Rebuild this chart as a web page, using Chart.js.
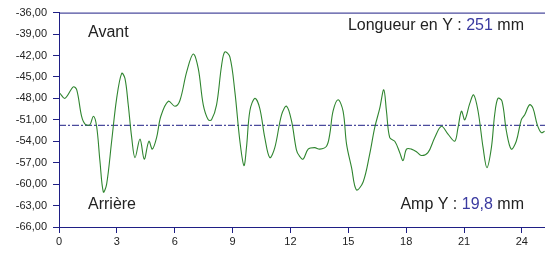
<!DOCTYPE html>
<html>
<head>
<meta charset="utf-8">
<script src="https://cdn.jsdelivr.net/npm/chart.js@4.4.1/dist/chart.umd.min.js"></script>
<style>
  html, body { margin: 0; padding: 0; background: #fff; }
  #wrap { width: 545px; height: 253px; }
</style>
</head>
<body>
<div id="wrap"><canvas id="profil"></canvas></div>
<script>
// --- Data ---
const positions = [0.05, 0.31, 0.74, 0.92, 1.17, 1.35, 1.6, 1.78, 1.95, 2.12, 2.3, 2.47, 2.73, 2.99, 3.25, 3.42, 3.59, 3.77, 3.94,
  4.2, 4.42, 4.66, 4.84, 5.06, 5.28, 5.67, 6.01, 6.27, 6.62, 6.96, 7.22, 7.48, 7.74, 7.91, 8.17, 8.43, 8.6, 8.86, 9.12, 9.38,
  9.59, 9.72, 9.9, 10.16, 10.41, 10.67, 10.93, 11.19, 11.54, 11.8, 12.06, 12.31, 12.45, 12.66, 12.92, 13.26, 13.52, 13.87,
  14.04, 14.21, 14.47, 14.73, 14.91, 15.17, 15.42, 15.77, 16.11, 16.37, 16.63, 16.84, 16.98, 17.15, 17.41, 17.67, 17.84,
  18.02, 18.27, 18.55, 18.79, 19.13, 19.48, 19.83, 20.17, 20.52, 20.69, 20.87, 21.04, 21.3, 21.5, 21.73, 21.99, 22.19,
  22.42, 22.59, 22.76, 22.97, 23.2, 23.45, 23.71, 23.97, 24.15, 24.4, 24.58, 24.8, 25.01, 25.18];
const depth = [-47.3, -48.0, -46.4, -46.8, -50.5, -51.6, -51.7, -50.5, -51.9, -56.7, -61.1, -60.0, -54.0, -48.0, -44.5, -45.2, -48.9, -53.5, -56.3,
  -53.7, -56.5, -54.0, -55.1, -53.5, -50.5, -48.4, -49.1, -48.3, -44.3, -41.8, -43.8, -48.9, -51.0, -51.0, -48.9, -43.4, -41.5, -42.2, -47.1, -54.0,
  -57.4, -54.9, -49.7, -48.0, -49.4, -53.5, -56.3, -54.9, -50.3, -49.1, -51.2, -55.2, -56.0, -56.5, -55.1, -54.9, -55.1, -54.7,
  -53.0, -49.8, -48.2, -49.8, -54.4, -57.7, -60.8, -59.7, -55.8, -52.1, -49.4, -46.8, -49.8, -53.5, -54.0, -55.6, -56.7,
  -55.1, -55.1, -55.5, -56.0, -55.6, -53.5, -51.9, -53.0, -54.0, -52.1, -49.8, -51.0, -48.7, -47.5, -49.8, -54.9, -57.7,
  -54.9, -50.3, -48.0, -48.4, -52.6, -55.1, -54.0, -51.0, -50.3, -48.9, -49.4, -51.7, -52.8, -52.6];
const meanLevel = -51.77;
const yTicks = [-66, -63, -60, -57, -54, -51, -48, -45, -42, -39, -36];
const xTicks = [0, 3, 6, 9, 12, 15, 18, 21, 24];
const xMax = 25.2;

const NAVY = '#1f1f85';
const FONT = '"Liberation Sans", Arial, sans-serif';

// --- Texts inside the plot ---
const labelsPlugin = {
  id: 'labels',
  afterDraw(chart) {
    const { ctx, chartArea: a } = chart;
    ctx.save();
    // top border
    ctx.strokeStyle = NAVY;
    ctx.lineWidth = 1;
    ctx.beginPath();
    ctx.moveTo(a.left, a.top + 0.5);
    ctx.lineTo(a.right, a.top + 0.5);
    ctx.stroke();

    ctx.font = '16px ' + FONT;
    ctx.textBaseline = 'middle';
    ctx.fillStyle = '#222';
    ctx.fillText('Avant', a.left + 29, a.top + 20);
    ctx.fillText('Arrière', a.left + 29, a.top + 192);

    // right-aligned lines with a blue number
    function rightLine(parts, y) {
      let w = parts.reduce((s, p) => s + ctx.measureText(p[0]).width, 0);
      let x = a.right - 21 - w;
      parts.forEach(p => {
        ctx.fillStyle = p[1];
        ctx.fillText(p[0], x, y);
        x += ctx.measureText(p[0]).width;
      });
    }
    rightLine([['Longueur en Y : ', '#222'], ['251', '#3a3aa0'], [' mm', '#222']], a.top + 13);
    rightLine([['Amp Y : ', '#222'], ['19,8', '#3a3aa0'], [' mm', '#222']], a.top + 192);
    ctx.restore();
  }
};

new Chart(document.getElementById('profil'), {
  type: 'line',
  data: {
    datasets: [
      {
        data: positions.map((x, i) => ({ x, y: depth[i] })),
        borderColor: '#2f852f',
        borderWidth: 1.1,
        pointRadius: 0,
        tension: 0.35,
        fill: false
      },
      {
        data: [{ x: 0, y: meanLevel }, { x: xMax, y: meanLevel }],
        borderColor: NAVY,
        borderWidth: 1,
        borderDash: [7, 2, 2, 2],
        pointRadius: 0,
        fill: false
      }
    ]
  },
  options: {
    responsive: true,
    maintainAspectRatio: false,
    animation: false,
    events: [],
    layout: { padding: { top: 10, right: 0, left: 0, bottom: 0 } },
    plugins: { legend: { display: false }, tooltip: { enabled: false } },
    scales: {
      x: {
        type: 'linear',
        min: 0,
        max: xMax,
        afterBuildTicks: s => { s.ticks = xTicks.map(v => ({ value: v })); },
        afterFit: s => { s.height = 26; },
        grid: { drawOnChartArea: false, drawTicks: true, tickLength: 6, color: NAVY },
        border: { color: NAVY, width: 1 },
        ticks: { color: '#222', font: { size: 11, family: FONT }, padding: 2, maxRotation: 0 }
      },
      y: {
        min: -66,
        max: -36,
        afterBuildTicks: s => { s.ticks = yTicks.map(v => ({ value: v })); },
        afterFit: s => { s.width = 59; },
        grid: { drawOnChartArea: false, drawTicks: true, tickLength: 6, color: NAVY },
        border: { color: NAVY, width: 1 },
        ticks: {
          color: '#222',
          font: { size: 11, family: FONT },
          padding: 6,
          callback: v => v.toFixed(2).replace('.', ',')
        }
      }
    }
  },
  plugins: [labelsPlugin]
});
</script>
</body>
</html>
